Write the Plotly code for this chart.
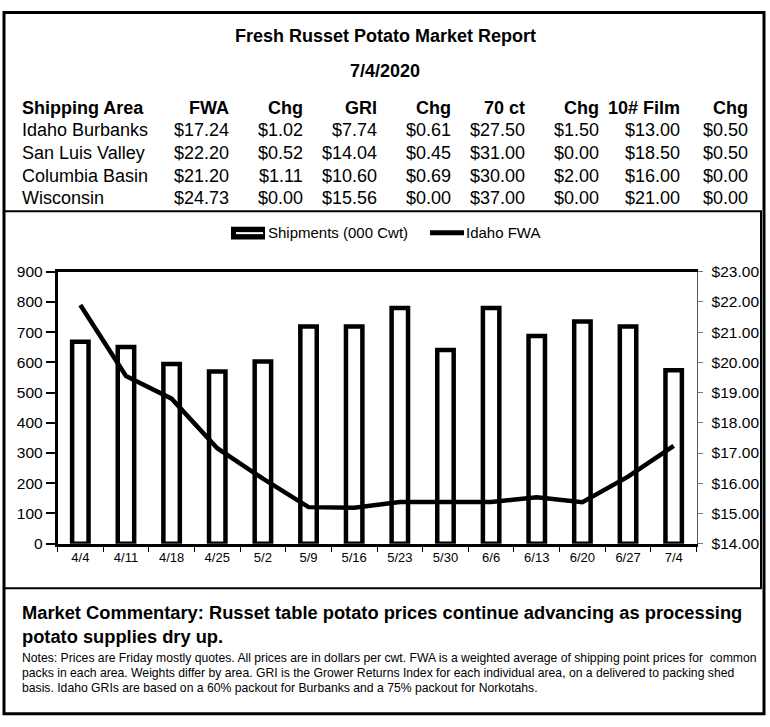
import plotly.graph_objects as go

W, H = 770, 727

# ---------------- data ----------------
title = "Fresh Russet Potato Market Report"
report_date = "7/4/2020"

table_headers = ["Shipping Area", "FWA", "Chg", "GRI", "Chg", "70 ct", "Chg", "10# Film", "Chg"]
areas = ["Idaho Burbanks", "San Luis Valley", "Columbia Basin", "Wisconsin"]
fwa = [17.24, 22.20, 21.20, 24.73]
fwa_chg = [1.02, 0.52, 1.11, 0.00]
gri = [7.74, 14.04, 10.60, 15.56]
gri_chg = [0.61, 0.45, 0.69, 0.00]
ct70 = [27.50, 31.00, 30.00, 37.00]
ct70_chg = [1.50, 0.00, 2.00, 0.00]
film10 = [13.00, 18.50, 16.00, 21.00]
film10_chg = [0.50, 0.50, 0.00, 0.00]

weeks = ["4/4", "4/11", "4/18", "4/25", "5/2", "5/9", "5/16", "5/23", "5/30",
         "6/6", "6/13", "6/20", "6/27", "7/4"]
shipments = [668, 651, 595, 570, 603, 719, 719, 780, 641, 780, 687, 735, 719, 574]
idaho_fwa = [21.90, 19.55, 18.80, 17.16, 16.15, 15.21, 15.19, 15.38, 15.38,
             15.38, 15.54, 15.37, 16.22, 17.24]

commentary = ("Market Commentary: Russet table potato prices continue advancing as processing<br>"
              "potato supplies dry up.")
notes = ["Notes: Prices are Friday mostly quotes. All prices are in dollars per cwt. FWA is a weighted average of shipping point prices for  common",
         "packs in each area. Weights differ by area. GRI is the Grower Returns Index for each individual area, on a delivered to packing shed",
         "basis. Idaho GRIs are based on a 60% packout for Burbanks and a 75% packout for Norkotahs."]

FONT = "Arial, Liberation Sans, sans-serif"


def px(x):
    return x / W


def py(y):
    return 1 - y / H


fig = go.Figure()

fig.add_trace(go.Bar(
    x=weeks, y=shipments, name="Shipments (000 Cwt)",
    marker=dict(color="white", line=dict(color="black", width=4.5)),
    showlegend=False, yaxis="y"))

fig.add_trace(go.Scatter(
    x=weeks, y=idaho_fwa, name="Idaho FWA", mode="lines",
    line=dict(color="black", width=4.5),
    showlegend=False, yaxis="y2"))

# ---------------- annotations ----------------
ann = []
ann.append(dict(text="<b>" + title + "</b>", x=px(385), y=py(27.5), xref="paper", yref="paper",
                showarrow=False, font=dict(size=18, family=FONT, color="black"),
                xanchor="center", yanchor="middle"))
ann.append(dict(text="<b>" + report_date + "</b>", x=px(385), y=py(63), xref="paper", yref="paper",
                showarrow=False, font=dict(size=18, family=FONT, color="black"),
                xanchor="center", yanchor="middle"))

col_right = [231.3, 305, 378.7, 452.5, 526.8, 600.7, 681.5, 749.5]
row_y = [124, 147.5, 171, 194]
header_y = 101

ann.append(dict(text="<b>" + table_headers[0] + "</b>", x=px(20), y=py(header_y), xref="paper",
                yref="paper", showarrow=False, font=dict(size=18, family=FONT, color="black"),
                xanchor="left", yanchor="middle"))
for h, xr in zip(table_headers[1:], col_right):
    ann.append(dict(text="<b>" + h + "</b>", x=px(xr), y=py(header_y), xref="paper", yref="paper",
                    showarrow=False, font=dict(size=18, family=FONT, color="black"),
                    xanchor="right", yanchor="middle"))

cols = [fwa, fwa_chg, gri, gri_chg, ct70, ct70_chg, film10, film10_chg]
for i, area in enumerate(areas):
    ann.append(dict(text=area, x=px(20), y=py(row_y[i]), xref="paper", yref="paper",
                    showarrow=False, font=dict(size=18, family=FONT, color="black"),
                    xanchor="left", yanchor="middle"))
    for col, xr in zip(cols, col_right):
        ann.append(dict(text="${:.2f}".format(col[i]), x=px(xr), y=py(row_y[i]), xref="paper",
                        yref="paper", showarrow=False,
                        font=dict(size=18, family=FONT, color="black"),
                        xanchor="right", yanchor="middle"))

# legend (manual)
ann.append(dict(text="Shipments (000 Cwt)", x=px(266), y=py(229), xref="paper", yref="paper",
                showarrow=False, font=dict(size=15, family=FONT, color="black"),
                xanchor="left", yanchor="middle"))
ann.append(dict(text="Idaho FWA", x=px(464), y=py(229), xref="paper", yref="paper",
                showarrow=False, font=dict(size=15, family=FONT, color="black"),
                xanchor="left", yanchor="middle"))

# commentary
ann.append(dict(text="<b>" + commentary + "</b>", x=px(20), y=py(605.5), xref="paper", yref="paper",
                showarrow=False, font=dict(size=18.3, family=FONT, color="black"),
                xanchor="left", yanchor="top", align="left"))
for i, ln in enumerate(notes):
    ann.append(dict(text=ln, x=px(20), y=py(665 + 15 * i), xref="paper", yref="paper",
                    showarrow=False, font=dict(size=12.2, family=FONT, color="black"),
                    xanchor="left", yanchor="middle"))

# ---------------- shapes ----------------
shapes = [
    # outer border
    dict(type="rect", xref="paper", yref="paper", x0=px(4), x1=px(764), y0=py(3.5), y1=py(721.5),
         line=dict(color="black", width=3)),
    # chart box
    dict(type="rect", xref="paper", yref="paper", x0=px(4), x1=px(761), y0=py(207), y1=py(593),
         line=dict(color="black", width=2)),
    # legend symbols
    dict(type="rect", xref="paper", yref="paper", x0=px(231), x1=px(265), y0=py(223), y1=py(236),
         line=dict(width=0), fillcolor="black"),
    dict(type="line", xref="paper", yref="paper", x0=px(236), x1=px(263), y0=py(229.5), y1=py(229.5),
         line=dict(color="white", width=2)),
    dict(type="line", xref="paper", yref="paper", x0=px(430), x1=px(464), y0=py(229), y1=py(229),
         line=dict(color="black", width=5)),
]

x0d, x1d = px(57.5), px(696.5)
y0d, y1d = py(547.5), py(269)

fig.update_layout(
    width=W, height=H,
    margin=dict(l=0, r=0, t=0, b=0),
    paper_bgcolor="white", plot_bgcolor="white",
    showlegend=False,
    bargap=0.64,
    font=dict(family=FONT, color="black"),
    annotations=ann,
    shapes=shapes,
    xaxis=dict(domain=[x0d, x1d], type="category", showgrid=False, zeroline=False,
               showline=True, linecolor="black", linewidth=2.5, mirror=True,
               ticks="outside", ticklen=6, tickwidth=1, tickcolor="black",
               tickson="boundaries",
               tickfont=dict(size=13, family=FONT, color="black")),
    yaxis=dict(domain=[y0d, y1d], range=[0, 900], dtick=100, showgrid=False, zeroline=False,
               showline=True, linecolor="black", linewidth=2.5,
               ticks="outside", ticklen=9, tickwidth=1.5, tickcolor="black",
               tickfont=dict(size=15.5, family=FONT, color="black")),
    yaxis2=dict(overlaying="y", side="right", range=[14, 23], dtick=1,
                tickprefix="$", tickformat=".2f", showgrid=False, zeroline=False,
                showline=True, linecolor="#555555", linewidth=1,
                ticks="outside", ticklen=5, tickwidth=1, tickcolor="#777777",
                ticklabelstandoff=6,
                tickfont=dict(size=15.5, family=FONT, color="black")),
)

fig.write_html(
    "out.html",
    config={"displayModeBar": False},
    post_script=("document.body.style.margin='0';document.body.style.overflow='hidden';"
                 "var d=document.getElementById('{plot_id}');"
                 "d.style.position='fixed';d.style.top='0px';d.style.left='0px';"),
)
